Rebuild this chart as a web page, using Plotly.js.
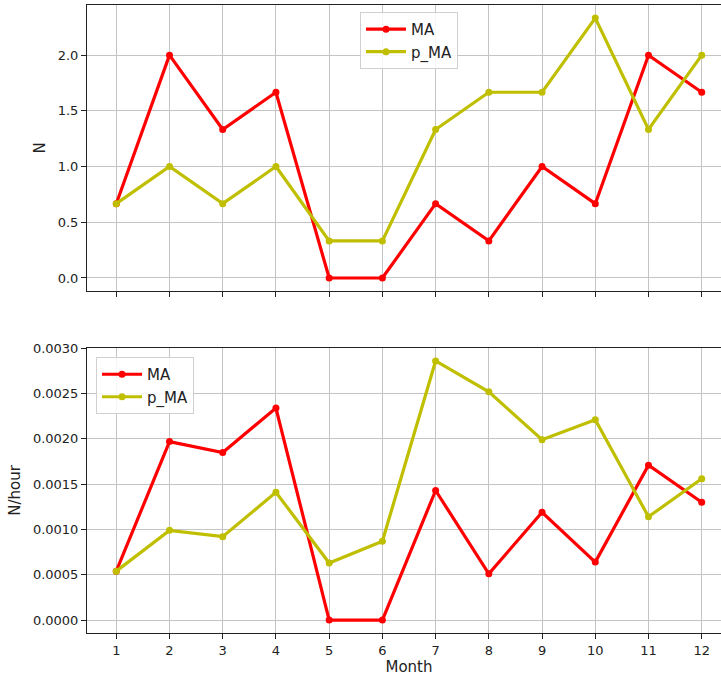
<!DOCTYPE html>
<html>
<head>
<meta charset="utf-8">
<script src="https://cdn.plot.ly/plotly-3.0.1.min.js"></script>
<style>
html,body{margin:0;padding:0;overflow:hidden;background:#fff;}
#chart{width:740px;height:677px;}
</style>
</head>
<body>
<div id="chart"></div>
<script>
const months = [1,2,3,4,5,6,7,8,9,10,11,12];
const monthLabels = ["1","2","3","4","5","6","7","8","9","10","11","12"];
const countMA = [0.667, 2.0, 1.333, 1.667, 0, 0, 0.667, 0.333, 1.0, 0.667, 2.0, 1.667];
const countPMA = [0.667, 1.0, 0.667, 1.0, 0.333, 0.333, 1.333, 1.667, 1.667, 2.333, 1.333, 2.0];
const rateMA = [0.00054, 0.00197, 0.00185, 0.00234, 0, 0, 0.00143, 0.00051, 0.00119, 0.00064, 0.00171, 0.00130];
const ratePMA = [0.00054, 0.00099, 0.00092, 0.00141, 0.00063, 0.00087, 0.00286, 0.00252, 0.00199, 0.00221, 0.00114, 0.00156];

const RED = '#ff0000';
const YEL = '#bfbf00';
const FONT = 'DejaVu Sans, sans-serif';

function tr(y, name, color, xa, ya, leg) {
  return {
    x: months, y: y, name: name, type: 'scatter', mode: 'lines+markers',
    line: {color: color, width: 3.2},
    marker: {color: color, size: 7},
    xaxis: xa, yaxis: ya, legend: leg, cliponaxis: false
  };
}

const data = [
  tr(countMA, 'MA', RED, 'x', 'y', 'legend'),
  tr(countPMA, 'p_MA', YEL, 'x', 'y', 'legend'),
  tr(rateMA, 'MA', RED, 'x2', 'y2', 'legend2'),
  tr(ratePMA, 'p_MA', YEL, 'x2', 'y2', 'legend2')
];

const axCommon = {
  showline: true, mirror: true, linecolor: '#222', linewidth: 1,
  showgrid: true, gridcolor: '#c4c4c4', gridwidth: 1,
  zeroline: false, ticks: 'outside', ticklen: 5, tickcolor: '#222', tickwidth: 1,
  tickfont: {family: FONT, size: 13, color: '#222'}, automargin: false
};

const legCommon = {
  bgcolor: 'rgba(255,255,255,0.85)', bordercolor: '#d0d0d0', borderwidth: 1,
  font: {family: FONT, size: 15, color: '#222'}, tracegroupgap: 0, itemwidth: 40
};

const layout = {
  width: 740, height: 677,
  margin: {l: 87, r: 9, t: 5, b: 44},
  paper_bgcolor: '#fff', plot_bgcolor: '#fff',
  font: {family: FONT, color: '#222'},
  xaxis: Object.assign({}, axCommon, {
    domain: [0, 1], anchor: 'y', range: [0.45, 12.55],
    tickmode: 'array', tickvals: months, ticktext: monthLabels, showticklabels: false
  }),
  yaxis: Object.assign({}, axCommon, {
    domain: [0.5446, 1], anchor: 'x', range: [-0.1167, 2.45],
    tickmode: 'linear', tick0: 0, dtick: 0.5, tickformat: '.1f',
    title: {text: 'N', font: {family: FONT, size: 15, color: '#222'}, standoff: 8}
  }),
  xaxis2: Object.assign({}, axCommon, {
    domain: [0, 1], anchor: 'y2', range: [0.45, 12.55],
    tickmode: 'array', tickvals: months, ticktext: monthLabels,
    title: {text: 'Month', font: {family: FONT, size: 15, color: '#222'}, standoff: 4}
  }),
  yaxis2: Object.assign({}, axCommon, {
    domain: [0, 0.4538], anchor: 'x2', range: [-0.000143, 0.003003],
    tickmode: 'linear', tick0: 0, dtick: 0.0005, tickformat: '.4f',
    title: {text: 'N/hour', font: {family: FONT, size: 15, color: '#222'}, standoff: 8}
  }),
  legend: Object.assign({}, legCommon, {
    x: 0.5, xanchor: 'center', y: 0.989, yanchor: 'top'
  }),
  legend2: Object.assign({}, legCommon, {
    x: 0.014, xanchor: 'left', y: 0.4395, yanchor: 'top'
  }),
  showlegend: true
};

Plotly.newPlot('chart', data, layout, {displayModeBar: false, staticPlot: true});
</script>
</body>
</html>
